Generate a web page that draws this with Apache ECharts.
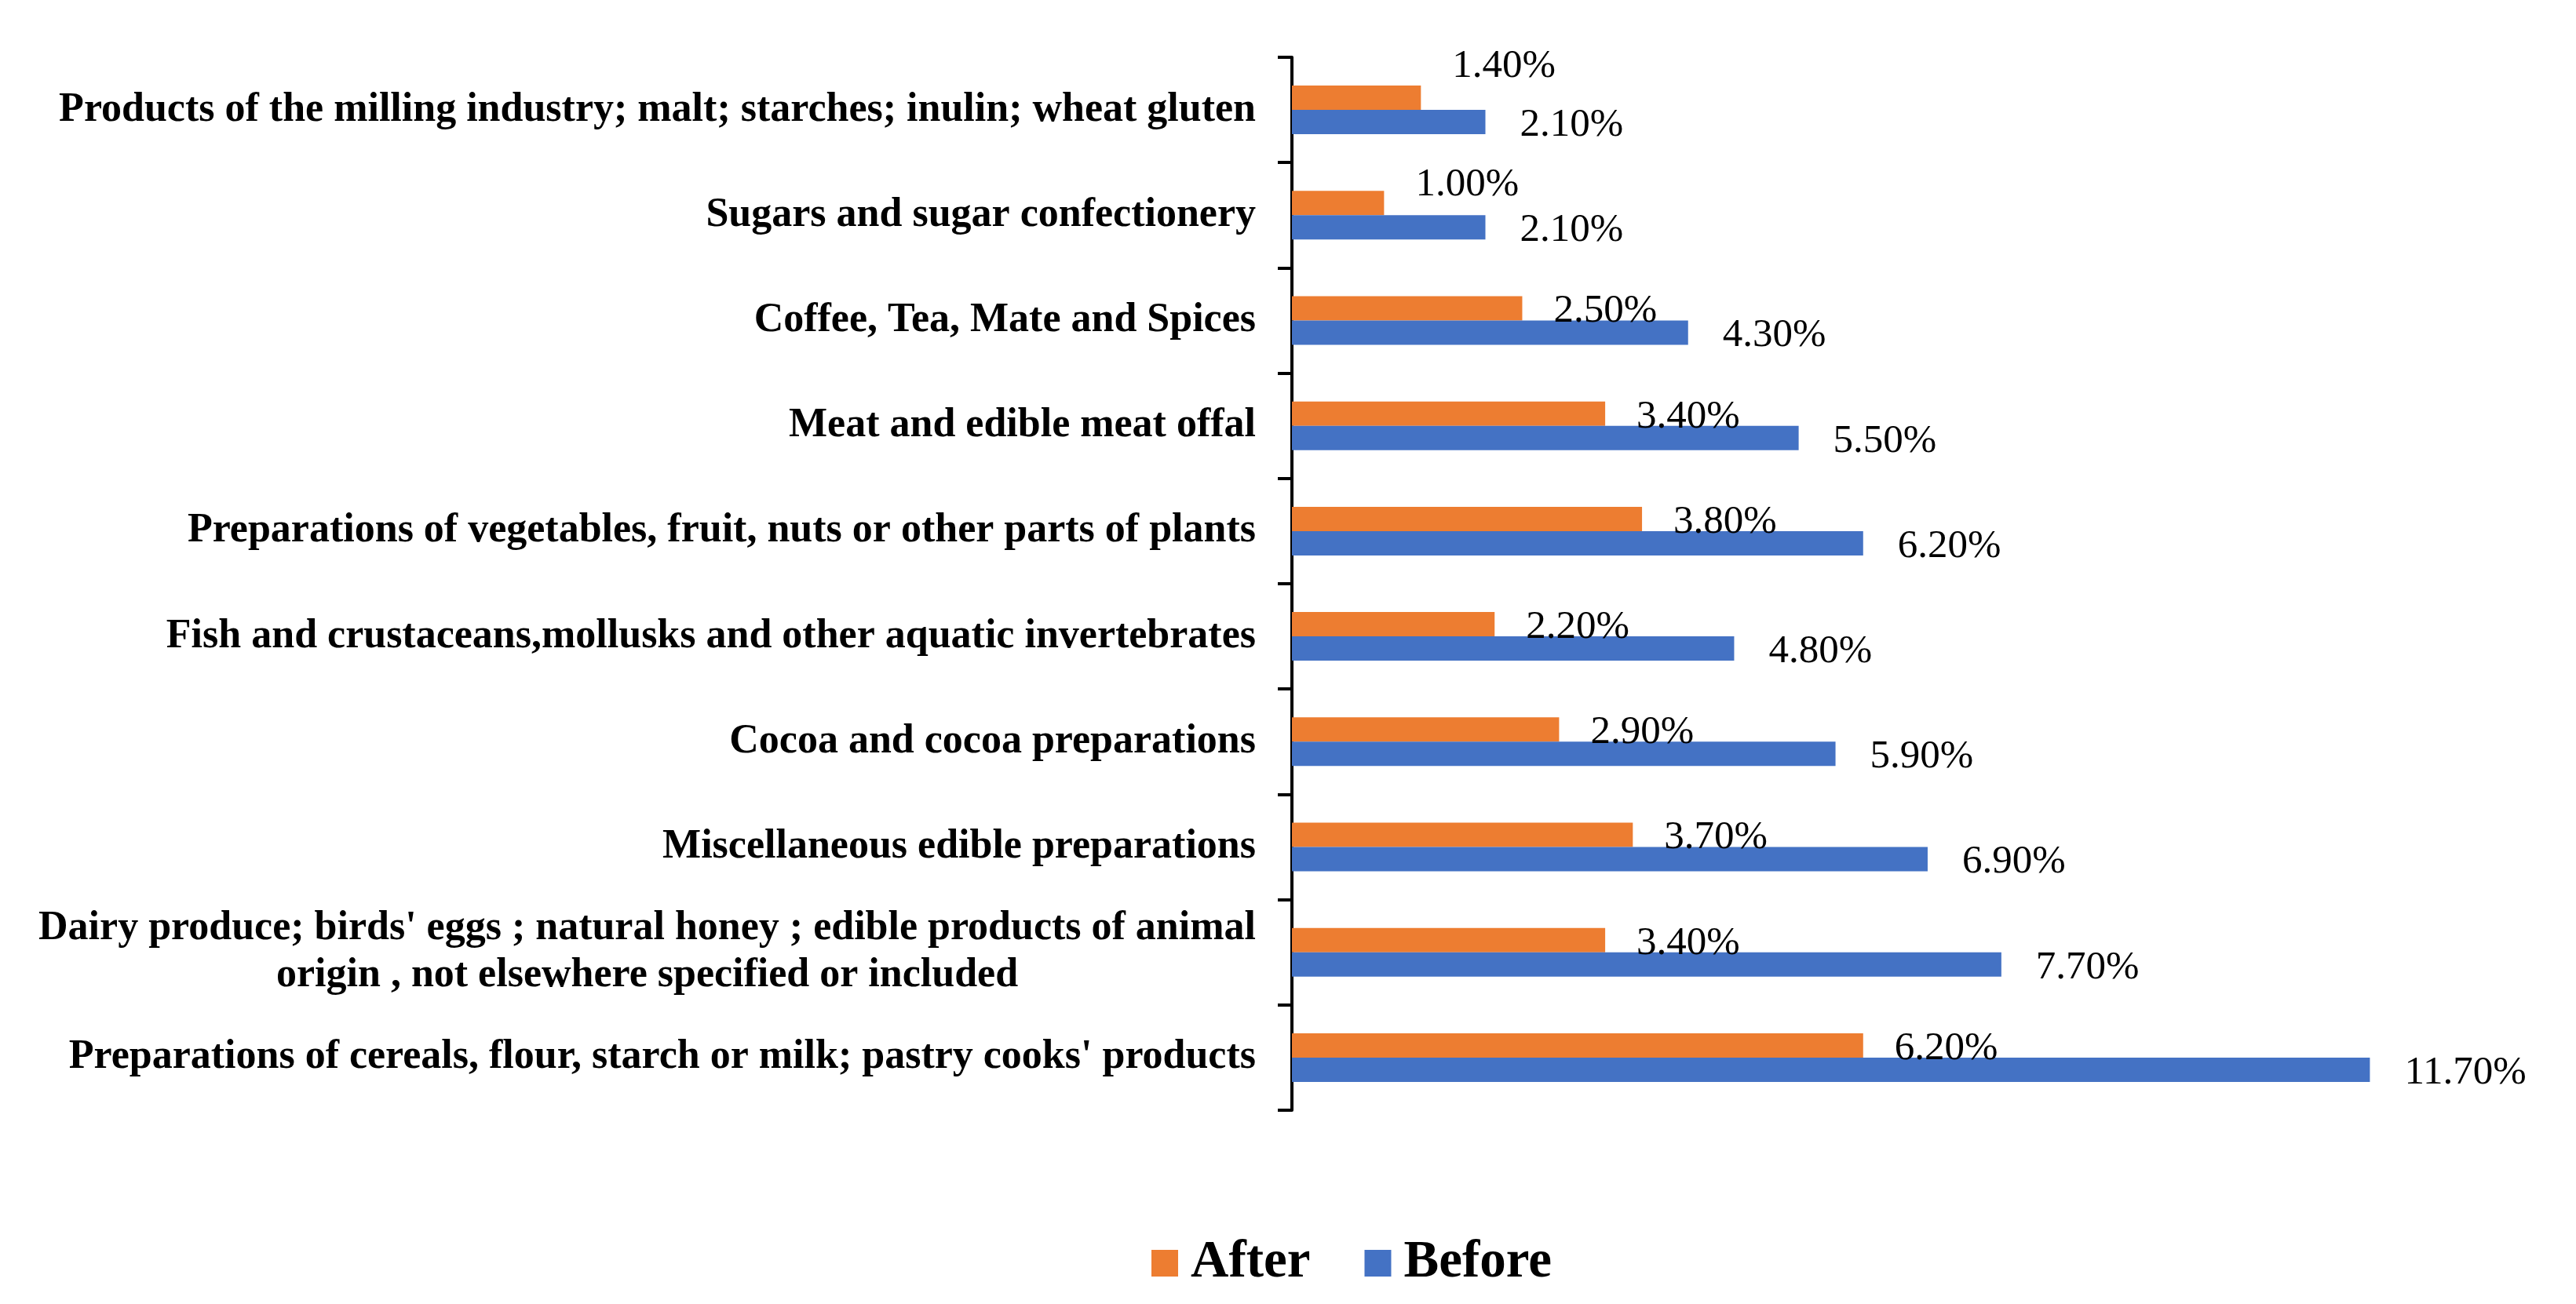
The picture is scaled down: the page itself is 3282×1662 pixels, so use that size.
<!DOCTYPE html>
<html>
<head>
<meta charset="utf-8">
<script src="https://cdn.jsdelivr.net/npm/echarts@6/dist/echarts.min.js"></script>
<style>
  html, body { margin: 0; padding: 0; background: #fff; }
  #chart { width: 3282px; height: 1662px; }
</style>
</head>
<body>
<div id="chart"></div>
<script>
// Categories listed bottom-to-top (category axis starts at the bottom)
const categories = [
  "Preparations of cereals, flour, starch or milk; pastry cooks' products",
  "Dairy produce; birds' eggs ; natural honey ; edible products of animal\norigin , not elsewhere specified or included",
  "Miscellaneous edible preparations",
  "Cocoa and cocoa preparations",
  "Fish and crustaceans,mollusks and other aquatic invertebrates",
  "Preparations of vegetables, fruit, nuts or other parts of plants",
  "Meat and edible meat offal",
  "Coffee, Tea, Mate and Spices",
  "Sugars and sugar confectionery",
  "Products of the milling industry; malt; starches; inulin; wheat gluten"
];
const beforeValues = [11.7, 7.7, 6.9, 5.9, 4.8, 6.2, 5.5, 4.3, 2.1, 2.1];
const afterValues  = [6.2, 3.4, 3.7, 2.9, 2.2, 3.8, 3.4, 2.5, 1.0, 1.4];
const seriesNames = ['After', 'Before'];

const FONT = "'Liberation Serif', 'Times New Roman', serif";
const ORANGE = '#ED7D31';
const BLUE = '#4472C4';

// manual vertical nudges of a few "After" labels (as in the original chart)
const afterLabelRaise = {8: -27, 9: -44};

const fmt = p => p.value.toFixed(2) + '%';

const chart = echarts.init(document.getElementById('chart'), null, {renderer: 'canvas'});
chart.setOption({
  backgroundColor: '#ffffff',
  animation: false,
  grid: { left: 1646, right: 110, top: 73, bottom: 247, containLabel: false },
  legend: {
    data: seriesNames,
    left: 1462,
    top: 1571,
    icon: 'rect',
    itemWidth: 34,
    itemHeight: 34,
    itemGap: 69,
    textStyle: { fontFamily: FONT, fontWeight: 'bold', fontSize: 67, color: '#000', lineHeight: 68, padding: [0, 0, 0, 11] }
  },
  xAxis: {
    type: 'value',
    min: 0,
    max: 13,
    show: false,
    splitLine: { show: false }
  },
  yAxis: {
    type: 'category',
    data: categories,
    axisLine: { show: true, lineStyle: { color: '#000', width: 4 } },
    axisTick: { show: true, length: 18, lineStyle: { color: '#000', width: 4 } },
    axisLabel: {
      margin: 46,
      formatter: v => v.split('\n').map(l => '{c|' + l + '}').join('\n'),
      rich: {
        c: { fontFamily: FONT, fontWeight: 'bold', fontSize: 52, color: '#000', align: 'center', lineHeight: 60 }
      }
    },
    splitLine: { show: false }
  },
  series: [
    {
      name: 'After',
      type: 'bar',
      data: afterValues.map((v, i) => ({
        value: v,
        label: { offset: [0, (afterLabelRaise[i] || 0) + 4] }
      })),
      barWidth: 31,
      barGap: '0%',
      itemStyle: { color: ORANGE },
      label: {
        show: true, position: 'right', distance: 40, offset: [0, 4],
        formatter: fmt, fontFamily: FONT, fontSize: 51, color: '#000'
      }
    },
    {
      name: 'Before',
      type: 'bar',
      data: beforeValues,
      barWidth: 31,
      barGap: '0%',
      itemStyle: { color: BLUE },
      label: {
        show: true, position: 'right', distance: 44, offset: [0, 4],
        formatter: fmt, fontFamily: FONT, fontSize: 51, color: '#000'
      }
    }
  ]
});
</script>
</body>
</html>
